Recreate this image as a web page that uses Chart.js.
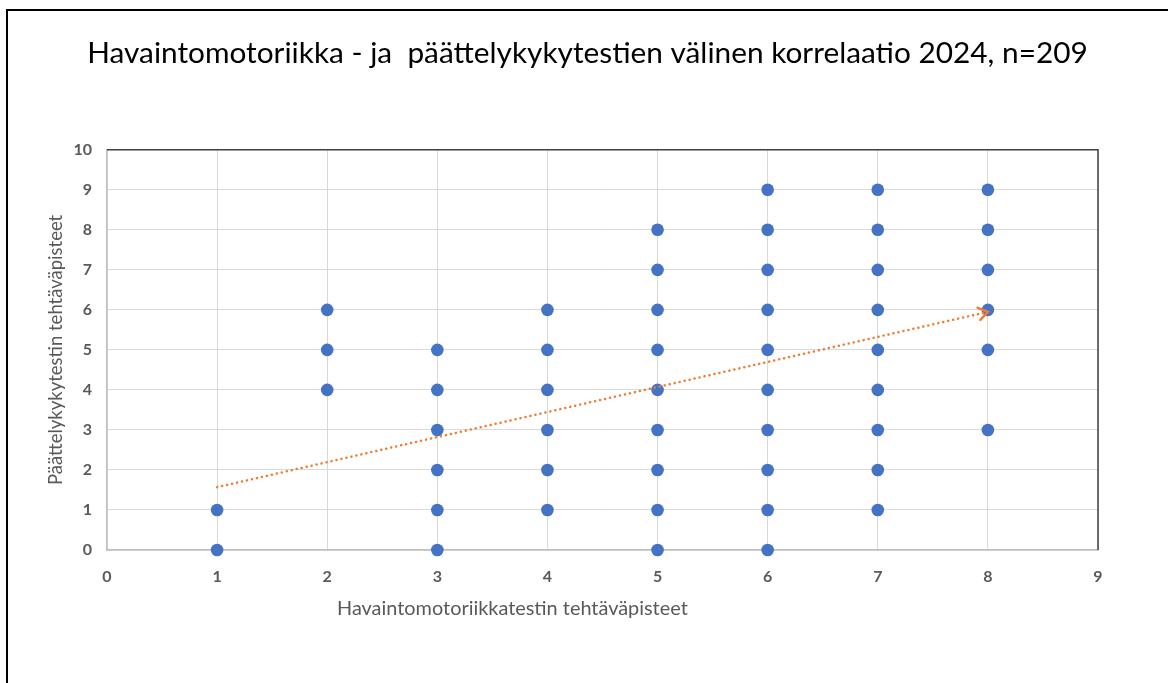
<!DOCTYPE html>
<html><head><meta charset="utf-8">
<script src="https://cdn.jsdelivr.net/npm/chart.js@4.4.1/dist/chart.umd.min.js"></script>
<style>
html,body{margin:0;padding:0;background:#fff;overflow:hidden;}
#wrap{position:relative;width:1168px;height:683px;}
#frame{position:absolute;left:6px;top:9px;width:1200px;height:700px;border-left:2px solid #000;border-top:2px solid #000;pointer-events:none;}
canvas{position:absolute;left:0;top:0;}
</style></head>
<body><div id="wrap"><canvas id="c" width="1168" height="683"></canvas><div id="frame"></div></div>
<script>
const chartTitle = 'Havaintomotoriikka - ja  päättelykykytestien välinen korrelaatio 2024, n=209';
const xAxisTitle = 'Havaintomotoriikkatestin tehtäväpisteet';
const yAxisTitle = 'Päättelykykytestin tehtäväpisteet';
// observed scores per x value (havaintomotoriikka score)
const xScores = [1, 2, 3, 4, 5, 6, 7, 8];
const yScores1 = [0, 1];
const yScores2 = [4, 5, 6];
const yScores3 = [0, 1, 2, 3, 4, 5];
const yScores4 = [1, 2, 3, 4, 5, 6];
const yScores5 = [0, 1, 2, 3, 4, 5, 6, 7, 8];
const yScores6 = [0, 1, 2, 3, 4, 5, 6, 7, 8, 9];
const yScores7 = [1, 2, 3, 4, 5, 6, 7, 8, 9];
const yScores8 = [3, 5, 6, 7, 8, 9];
const yByX = [yScores1, yScores2, yScores3, yScores4, yScores5, yScores6, yScores7, yScores8];
// trendline endpoints
const trendX = [1, 8];
const trendY = [1.57, 5.95];

const points = [];
xScores.forEach((x, i) => yByX[i].forEach(y => points.push({x, y})));
const trend = trendX.map((x, i) => ({x, y: trendY[i]}));

const gray = '#595959';
const fontFam = 'Lato, "Open Sans", sans-serif';

const extras = {
  id: 'extras',
  afterDatasetsDraw(chart) {
    const ctx = chart.ctx;
    const meta = chart.getDatasetMeta(1);
    const pts = meta.data;
    const a = pts[pts.length - 2], b = pts[pts.length - 1];
    const ang = Math.atan2(b.y - a.y, b.x - a.x);
    ctx.save();
    ctx.strokeStyle = '#ED7D31';
    ctx.lineWidth = 2.5;
    ctx.lineCap = 'round';
    ctx.beginPath();
    const L = 11, w = 0.6;
    ctx.moveTo(b.x - L * Math.cos(ang - w), b.y - L * Math.sin(ang - w));
    ctx.lineTo(b.x, b.y);
    ctx.lineTo(b.x - L * Math.cos(ang + w), b.y - L * Math.sin(ang + w));
    ctx.stroke();
    ctx.restore();
  },
  afterDraw(chart) {
    const ctx = chart.ctx;
    const ca = chart.chartArea;
    ctx.save();
    ctx.fillStyle = gray;
    ctx.font = '19.9px ' + fontFam;
    ctx.textAlign = 'left';
    ctx.textBaseline = 'middle';
    ctx.fillText(xAxisTitle, ca.left + 230, ca.bottom + 59);
    ctx.restore();
  },
  beforeDatasetsDraw(chart) {
    const ctx = chart.ctx;
    const ca = chart.chartArea;
    ctx.save();
    ctx.strokeStyle = '#404040';
    ctx.lineWidth = 1.5;
    ctx.beginPath();
    ctx.moveTo(ca.left, ca.top);
    ctx.lineTo(ca.right, ca.top);
    ctx.lineTo(ca.right, ca.bottom);
    ctx.stroke();
    ctx.restore();
  }
};

new Chart(document.getElementById('c'), {
  type: 'scatter',
  data: {
    datasets: [
      {
        data: points,
        backgroundColor: '#4472C4',
        borderWidth: 0,
        pointRadius: 6.3,
        pointHoverRadius: 6.3,
        clip: false,
        order: 2
      },
      {
        type: 'line',
        data: trend,
        borderColor: '#ED7D31',
        borderWidth: 2.5,
        borderDash: [0.1, 5],
        borderCapStyle: 'round',
        pointRadius: 0,
        fill: false,
        showLine: true,
        clip: false,
        order: 1
      }
    ]
  },
  options: {
    responsive: false,
    animation: false,
    events: [],
    layout: { padding: { top: 0, right: 0, left: 7, bottom: 0 } },
    plugins: {
      legend: { display: false },
      tooltip: { enabled: false },
      title: {
        display: true,
        text: chartTitle,
        color: '#000',
        font: { family: fontFam, size: 29.8, weight: 'normal', lineHeight: 1.2 },
        padding: { top: 36, bottom: 78 }
      }
    },
    scales: {
      x: {
        type: 'linear',
        min: 0, max: 9,
        ticks: { stepSize: 1, color: gray, padding: 17, font: { family: fontFam, size: 16, weight: 'bold' } },
        grid: { color: '#d9d9d9', lineWidth: 1, drawTicks: false },
        border: { color: '#bfbfbf', width: 1.5 },
        afterFit(s) { s.height = 133; }
      },
      y: {
        type: 'linear',
        min: 0, max: 10,
        ticks: { stepSize: 1, color: gray, padding: 15, font: { family: fontFam, size: 16, weight: 'bold' } },
        grid: { color: '#d9d9d9', lineWidth: 1, drawTicks: false },
        border: { color: '#bfbfbf', width: 1.5 },
        title: { display: true, text: yAxisTitle, color: gray, font: { family: fontFam, size: 18.5 }, padding: { top: 38, bottom: 0 } },
        afterFit(s) { s.width = 100; }
      },
      yRight: {
        type: 'linear',
        position: 'right',
        min: 0, max: 10,
        grid: { display: false, drawTicks: false },
        ticks: { display: false },
        border: { display: false },
        afterFit(s) { s.width = 70; }
      }
    }
  },
  plugins: [extras]
});
</script>
</body></html>
